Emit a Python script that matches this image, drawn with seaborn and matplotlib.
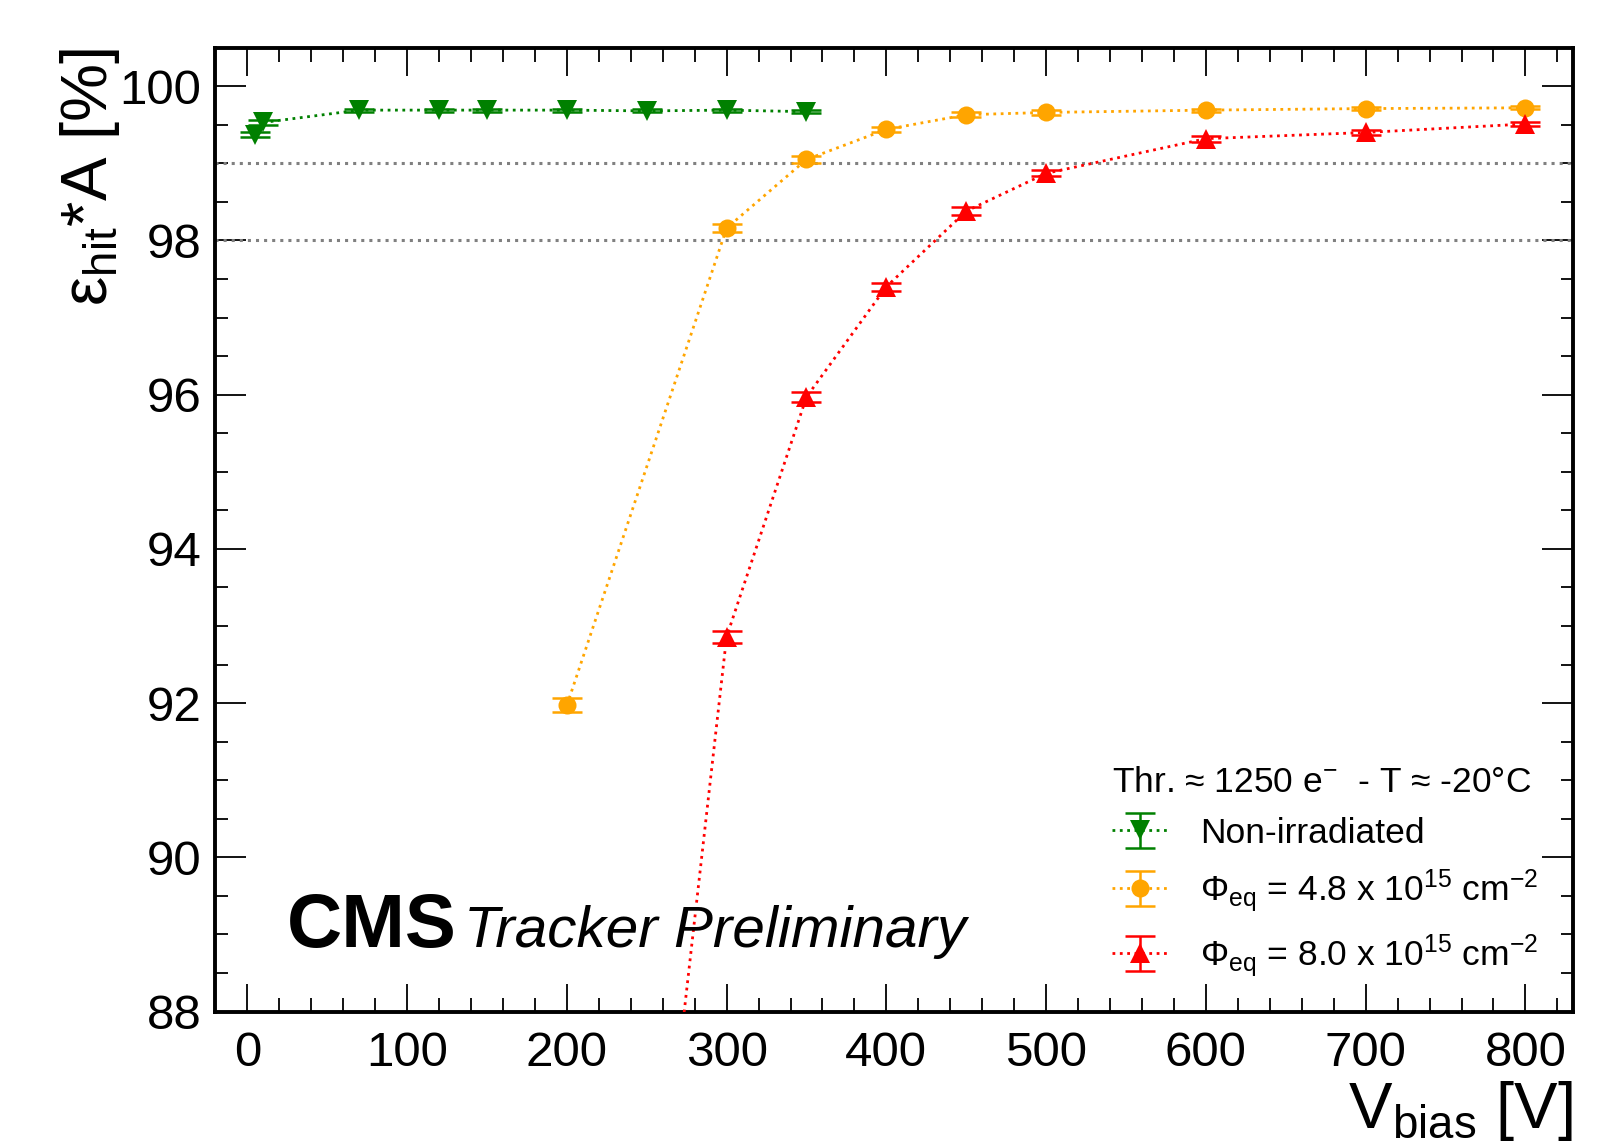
import matplotlib
matplotlib.use("Agg")
import matplotlib.pyplot as plt
from matplotlib.legend_handler import HandlerTuple
from matplotlib.lines import Line2D
import seaborn as sns

# data
green_v = [5, 10, 70, 120, 150, 200, 250, 300, 350]
green_eff = [99.37, 99.53, 99.69, 99.69, 99.69, 99.69, 99.68, 99.69, 99.67]
green_err = [0.03, 0.03, 0.02, 0.02, 0.02, 0.02, 0.02, 0.02, 0.02]

orange_v = [200, 300, 350, 400, 450, 500, 600, 700, 800]
orange_eff = [91.97, 98.16, 99.05, 99.44, 99.63, 99.66, 99.69, 99.71, 99.72]
orange_err = [0.09, 0.05, 0.04, 0.03, 0.03, 0.03, 0.02, 0.02, 0.02]

red_v = [250, 300, 350, 400, 450, 500, 600, 700, 800]
red_eff = [83.7, 92.86, 95.97, 97.40, 98.38, 98.87, 99.32, 99.40, 99.51]
red_err = [0.10, 0.08, 0.06, 0.05, 0.05, 0.04, 0.04, 0.03, 0.03]

ref_lines = [98, 99]

labels = ["Non-irradiated",
          r"$\Phi_{\mathrm{eq}}$ = 4.8 x 10$^{15}$ cm$^{-2}$",
          r"$\Phi_{\mathrm{eq}}$ = 8.0 x 10$^{15}$ cm$^{-2}$"]

sns.set_theme(style="ticks")
plt.rcParams["font.family"] = ["Liberation Sans", "DejaVu Sans"]
plt.rcParams["mathtext.fontset"] = "custom"
plt.rcParams["mathtext.rm"] = "Liberation Sans"
plt.rcParams["mathtext.it"] = "Liberation Sans:italic"
plt.rcParams["mathtext.bf"] = "Liberation Sans:bold"
for k in ["text.color", "axes.labelcolor", "xtick.color", "ytick.color"]:
    plt.rcParams[k] = "black"

fig = plt.figure(figsize=(16.23, 11.43), dpi=100)
ax = fig.add_axes([0.1327, 0.115, 0.8367, 0.8433])

for y in ref_lines:
    ax.axhline(y, color="#808080", ls=":", lw=2.2, zorder=1)

series = [
    (green_v, green_eff, green_err, "#008000", "v"),
    (orange_v, orange_eff, orange_err, "#FFA500", "o"),
    (red_v, red_eff, red_err, "#FF0000", "^"),
]

handles = []
for v, eff, err, col, mk in series:
    ms = 13 if mk == "o" else 14
    sns.lineplot(x=v, y=eff, ax=ax, color=col, marker=mk, markersize=ms,
                 markeredgewidth=0, linestyle=":", linewidth=2, sort=False,
                 errorbar=None, zorder=3)
    eb = ax.errorbar(v, eff, yerr=err, fmt="none", ecolor=col, elinewidth=1.8,
                     capsize=11, capthick=1.8, zorder=2)
    ln = Line2D([], [], color=col, marker=mk, markersize=ms, markeredgewidth=0,
                linestyle=":", linewidth=2)
    handles.append((eb, ln))

ax.set_xlim(-20, 830)
ax.set_ylim(88, 100.5)
ax.set_xticks(range(0, 801, 100))
ax.set_xticks(range(-20, 831, 20), minor=True)
ax.set_yticks(range(88, 101, 2))
ax.set_yticks([88 + 0.5 * i for i in range(26)], minor=True)

ax.tick_params(axis="both", which="both", direction="in", top=True, right=True,
               labelsize=35.5, width=1.3, color="black")
ax.tick_params(axis="x", which="major", length=20, pad=14)
ax.tick_params(axis="x", which="minor", length=10)
ax.tick_params(axis="y", which="major", length=22, pad=10)
ax.tick_params(axis="y", which="minor", length=9)
for s in ax.spines.values():
    s.set_linewidth(2.8)
    s.set_color("black")

ax.set_xlabel(r"V$_{\mathrm{bias}}$ [V]", fontsize=47, ha="right")
ax.xaxis.set_label_coords(1.0, -0.07)
ax.set_ylabel(r"ε$_{\mathrm{hit}}$*A [%]", fontsize=47, ha="right")
ax.yaxis.set_label_coords(-0.069, 1.0)

ax.text(0.053, 0.067, "CMS", transform=ax.transAxes, fontsize=55,
        fontweight="bold", va="baseline", ha="left")
ax.text(0.183, 0.067, "Tracker Preliminary", transform=ax.transAxes,
        fontsize=42, style="italic", va="baseline", ha="left")

leg = ax.legend(handles, labels, handler_map={tuple: HandlerTuple(ndivide=1)},
                title="Thr. ≈ 1250 e$^{-}$  - T ≈ -20°C", title_fontsize=25.5,
                fontsize=25.5, frameon=False, loc="lower right",
                bbox_to_anchor=(0.998, 0.0), handlelength=1.6,
                handletextpad=0.9, labelspacing=0.5, alignment="left")

fig.savefig("out.png", dpi=100)
